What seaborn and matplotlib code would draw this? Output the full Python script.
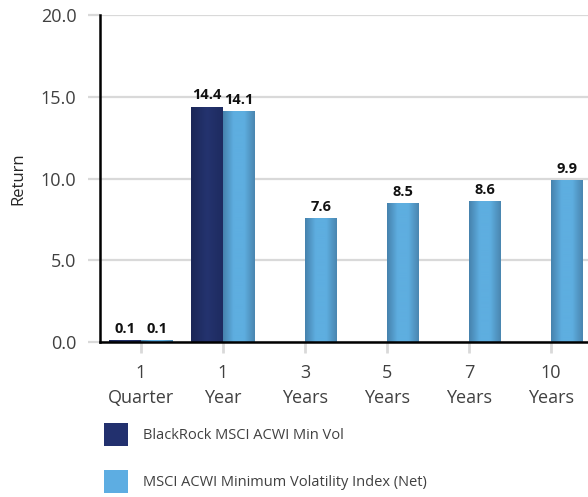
import numpy as np
import pandas as pd
import matplotlib
matplotlib.use("Agg")
import matplotlib.pyplot as plt
from matplotlib.colors import LinearSegmentedColormap
from matplotlib.patches import Patch
import seaborn as sns

categories = ["1\nQuarter", "1\nYear", "3\nYears", "5\nYears", "7\nYears", "10\nYears"]
series_names = ["BlackRock MSCI ACWI Min Vol", "MSCI ACWI Minimum Volatility Index (Net)"]
blackrock = [0.1, 14.4, np.nan, np.nan, np.nan, np.nan]
msci = [0.1, 14.1, 7.6, 8.5, 8.6, 9.9]
y_ticks = [0.0, 5.0, 10.0, 15.0, 20.0]

dark = "#22306e"
light = "#5dade2"

df = pd.DataFrame({
    "Period": categories * 2,
    "Series": [series_names[0]] * len(categories) + [series_names[1]] * len(categories),
    "Return": blackrock + msci,
})

sns.set_style("white")
plt.rcParams["font.family"] = ["Open Sans", "DejaVu Sans"]

fig = plt.figure(figsize=(5.88, 4.97), dpi=100)
ax = fig.add_axes([100 / 588, 1 - 342 / 497, 488 / 588, 327 / 497])

sns.barplot(data=df, x="Period", y="Return", hue="Series", order=categories,
            hue_order=series_names, palette=[dark, light], width=0.78,
            saturation=1, ax=ax, legend=False, linewidth=0)

ax.set_ylim(0, 20)
ax.set_xlim(-0.5, 5.45)
ax.set_yticks(y_ticks)
ax.set_yticklabels([f"{v:.1f}" for v in y_ticks])
ax.set_axisbelow(True)
ax.yaxis.grid(True, color="#d9d9d9", linewidth=1.6)
ax.xaxis.grid(False)

# gradients
grad_light = LinearSegmentedColormap.from_list("gl", ["#4682ad", "#5eaee0", "#5eaee0", "#4a86b0"])
grad_dark = LinearSegmentedColormap.from_list("gd", ["#1b2757", "#24336f", "#1e2b60"])
grad = np.linspace(0, 1, 64).reshape(1, -1)
for container, cmap in zip(ax.containers, [grad_dark, grad_light]):
    for patch in container.patches:
        h = patch.get_height()
        if np.isnan(h) or h == 0:
            continue
        x0 = patch.get_x()
        w = patch.get_width()
        im = ax.imshow(grad, cmap=cmap, aspect="auto",
                       extent=[x0, x0 + w, 0, h], zorder=patch.get_zorder() + 0.1,
                       interpolation="bicubic")
        im.set_clip_path(patch)
    ax.bar_label(container, fmt="%.1f", padding=3, fontsize=10.5, fontweight="bold",
                 color="#111111")

ax.set_ylim(0, 20)
ax.set_xlim(-0.5, 5.45)

for s in ["top", "right"]:
    ax.spines[s].set_visible(False)
for s in ["left", "bottom"]:
    ax.spines[s].set_color("black")
    ax.spines[s].set_linewidth(1.8)
    ax.spines[s].set_zorder(5)

ax.tick_params(axis="y", length=9, width=1.6, color="#d9d9d9", pad=8,
               labelsize=13, labelcolor="#404040", left=True)
ax.tick_params(axis="x", length=8, width=2, color="#d9d9d9", pad=8,
               labelsize=13, labelcolor="#404040", bottom=True)
for lbl in ax.get_xticklabels():
    lbl.set_linespacing(1.5)

ax.set_xlabel("")
ax.set_ylabel("Return", fontsize=12, color="#262626", labelpad=10)

handles = [Patch(facecolor=dark, edgecolor="none"), Patch(facecolor=light, edgecolor="none")]
fig.legend(handles, series_names, loc="upper left",
           bbox_to_anchor=(104 / 588, 1 - 423 / 497), bbox_transform=fig.transFigure,
           frameon=False, fontsize=10.5, labelcolor="#404040",
           handlelength=1.65, handleheight=2.1, handletextpad=1.0,
           labelspacing=1.6, borderpad=0, borderaxespad=0)

fig.savefig("out.png", dpi=100)
